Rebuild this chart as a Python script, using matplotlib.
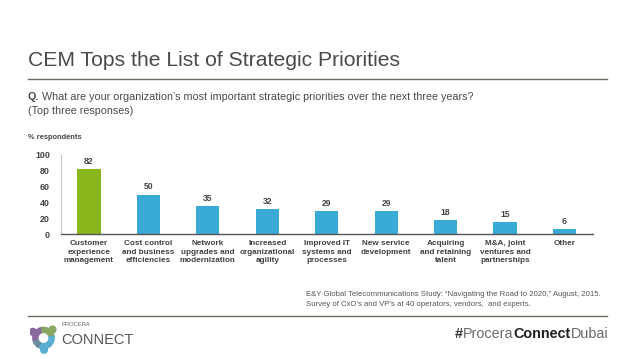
import numpy as np
import matplotlib
matplotlib.use("Agg")
import matplotlib.pyplot as plt
from matplotlib.patches import Wedge, Circle

plt.rcParams['font.family'] = ['Liberation Sans', 'DejaVu Sans']

# data
categories = ["Customer\nexperience\nmanagement", "Cost control\nand business\nefficiencies",
              "Network\nupgrades and\nmodernization", "Increased\norganizational\nagility",
              "Improved IT\nsystems and\nprocesses", "New service\ndevelopment",
              "Acquiring\nand retaining\ntalent", "M&A, joint\nventures and\npartnerships", "Other"]
values = [82, 50, 35, 32, 29, 29, 18, 15, 6]
yticks = [0, 20, 40, 60, 80, 100]

green = "#8ab71e"
blue = "#39a9d6"

W, H = 638, 359
fig = plt.figure(figsize=(W / 100, H / 100), dpi=100)

def px(x, y):
    return x / W, 1 - y / H

fig.canvas.draw()
r = fig.canvas.get_renderer()

def after(prev, s, y, **kw):
    # put a text piece right after the previous one
    bb = prev.get_window_extent(renderer=r)
    return fig.text(bb.x1 / W, 1 - y / H, s, va="center", **kw)

# title block
fig.text(*px(28, 60), "CEM Tops the List of Strategic Priorities", fontsize=15.2,
         color="#4a4a4a", va="center", ha="left")
fig.add_artist(plt.Line2D([28 / W, 607 / W], [1 - 78.5 / H] * 2, color="#6b6b60", lw=1.0))
q = fig.text(*px(28, 97), "Q.", fontsize=7.75, color="#4a4a4a", va="center", fontweight="bold")
after(q, " What are your organization\u2019s most important strategic priorities over the next three years?",
      97, fontsize=7.75, color="#4a4a4a")
fig.text(*px(28, 110.5), "(Top three responses)", fontsize=7.75, color="#4a4a4a", va="center")
fig.text(*px(28, 137.5), "% respondents", fontsize=5.4, color="#444444", va="center", fontweight="bold")

# chart
ax = fig.add_axes([61 / W, (359 - 234) / H, (593 - 61) / W, (234 - 155) / H])
x = np.arange(len(categories))
colors = [green] + [blue] * (len(values) - 1)
ax.bar(x, values, width=0.39, color=colors, zorder=2)
for xi, v in zip(x, values):
    ax.text(xi, v + 4, str(v), ha="center", va="bottom", fontsize=6.2,
            color="#444444", fontweight="bold")
ax.set_xlim(-0.47, 8.48)
ax.set_ylim(0, 100)
ax.set_yticks(yticks)
ax.set_yticklabels([str(t) for t in yticks], fontsize=6.4, color="#444444", fontweight="bold")
ax.set_xticks(x)
ax.set_xticklabels(categories, fontsize=5.9, color="#404040", fontweight="bold", linespacing=1.3)
ax.tick_params(axis="both", length=0)
ax.tick_params(axis="y", pad=8)
ax.tick_params(axis="x", pad=4.5)
for s in ["top", "right"]:
    ax.spines[s].set_visible(False)
ax.spines["bottom"].set_color("#555555")
ax.spines["bottom"].set_linewidth(1.0)
ax.spines["left"].set_color("#c8c8c8")
ax.spines["left"].set_linewidth(0.8)

# footnote
fig.text(*px(306, 295), "E&Y Global Telecommunications Study: \u201cNavigating the Road to 2020,\u201d August, 2015.",
         fontsize=5.55, color="#555555", va="center")
fig.text(*px(306, 304), "Survey of CxO\u2019s and VP\u2019s at 40 operators, vendors,  and experts.",
         fontsize=5.55, color="#555555", va="center")
fig.add_artist(plt.Line2D([28 / W, 607 / W], [1 - 316 / H] * 2, color="#6b6b60", lw=1.0))

# logo
lax = fig.add_axes([30 / W, 1 - 354 / H, 27 / W, 32 / H])
lax.set_xlim(-1.2, 1.2)
lax.set_ylim(-1.4, 1.4)
lax.set_aspect("equal")
lax.axis("off")
for (t1, t2, c) in [(100, 200, "#8a6a9e"), (10, 100, "#8aa864"), (-120, 10, "#5aaed0"), (200, 240, "#6a8aa0")]:
    lax.add_patch(Wedge((0, 0), 0.95, t1, t2, width=0.45, color=c))
for (cx, cy, c) in [(-0.95, 0.55, "#8a6a9e"), (0.8, 0.75, "#8aa864"), (0.05, -1.05, "#5aaed0")]:
    lax.add_patch(Circle((cx, cy), 0.3, color=c))
fig.text(*px(62, 325), "PROCERA", fontsize=4.2, color="#666666", va="center")
fig.text(*px(61, 340.5), "CONNECT", fontsize=10.5, color="#555555", va="center")

# hashtag
h1 = fig.text(*px(455, 334), "#", fontsize=10.4, color="#333333", va="center", fontweight="bold")
h2 = after(h1, "Procera", 334, fontsize=10.4, color="#6a6a6a")
h3 = after(h2, "Connect", 334, fontsize=10.4, color="#222222", fontweight="bold")
after(h3, "Dubai", 334, fontsize=10.4, color="#6a6a6a")

fig.savefig("out.png", dpi=100)
